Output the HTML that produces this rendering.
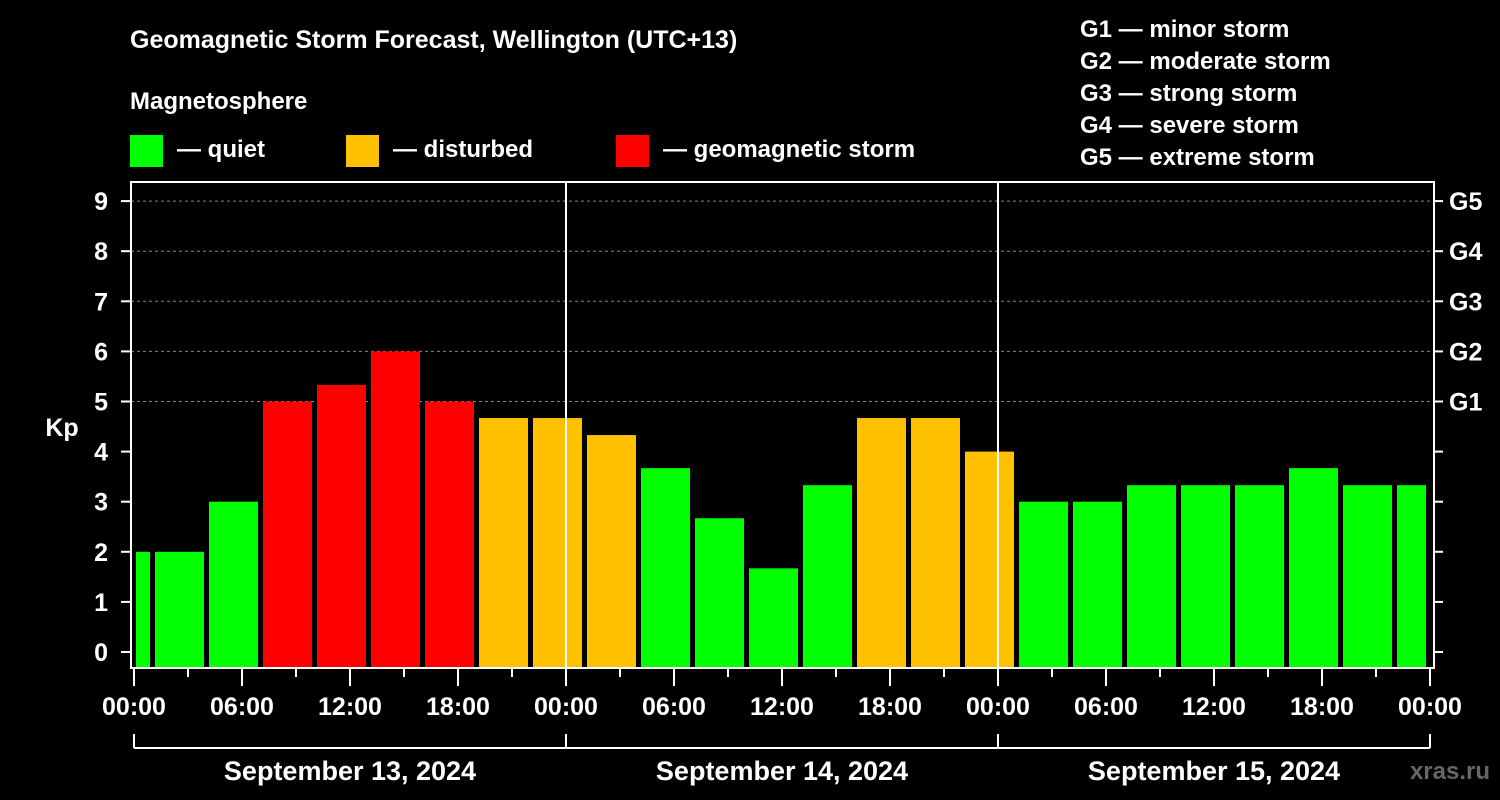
<!DOCTYPE html>
<html><head><meta charset="utf-8"><style>
html,body{margin:0;padding:0;background:#000;}
svg{display:block;font-family:"Liberation Sans",Arial,sans-serif;font-weight:bold;}
</style></head><body>
<svg id="chart" width="1500" height="800" viewBox="0 0 1500 800">
<rect width="1500" height="800" fill="#000"/>
<text x="130" y="48" fill="#fff" font-size="25">Geomagnetic Storm Forecast, Wellington (UTC+13)</text>
<text x="130" y="109" fill="#fff" font-size="24">Magnetosphere</text>
<g><rect x="130" y="135" width="33" height="32" fill="#00ff00"/><text x="177" y="157" fill="#fff" font-size="24">— quiet</text></g>
<g><rect x="346" y="135" width="33" height="32" fill="#ffc000"/><text x="393" y="157" fill="#fff" font-size="24">— disturbed</text></g>
<g><rect x="616" y="135" width="33" height="32" fill="#ff0000"/><text x="663" y="157" fill="#fff" font-size="24">— geomagnetic storm</text></g>
<g fill="#fff" font-size="24">
<text x="1080" y="37">G1 — minor storm</text>
<text x="1080" y="69">G2 — moderate storm</text>
<text x="1080" y="101">G3 — strong storm</text>
<text x="1080" y="133">G4 — severe storm</text>
<text x="1080" y="165">G5 — extreme storm</text>
</g>
<text x="62" y="436" fill="#fff" font-size="25" text-anchor="middle">Kp</text>
<text x="1490" y="779" fill="#666" font-size="24" text-anchor="end">xras.ru</text>
<g id="plot"></g>
</svg>
<script>
const kpValues=[2,2,3,5,5.33,6,5,4.67,4.67,4.33,3.67,2.67,1.67,3.33,4.67,4.67,4,3,3,3.33,3.33,3.33,3.67,3.33,3.33];
const binStartHours=[-2,1,4,7,10,13,16,19,22,25,28,31,34,37,40,43,46,49,52,55,58,61,64,67,70];
const yTicks=[0,1,2,3,4,5,6,7,8,9];
const gLabels=["G1","G2","G3","G4","G5"];
const xTickLabels=["00:00","06:00","12:00","18:00","00:00","06:00","12:00","18:00","00:00","06:00","12:00","18:00","00:00"];
const dayLabels=["September 13, 2024","September 14, 2024","September 15, 2024"];
const NS="http://www.w3.org/2000/svg";
const X0=134,PXH=18,TOTAL=72,PL=131,PR=1434,PT=182,PB=668;
const x=h=>X0+Math.max(0,Math.min(TOTAL,h))*PXH;
const y=v=>652-50.1*v;
const g=document.getElementById('plot');
function mk(t,a,p){const e=document.createElementNS(NS,t);for(const k in a)e.setAttribute(k,a[k]);(p||g).appendChild(e);return e;}
// grid
yTicks.forEach(v=>{if(v>=5){const l=mk('line',{x1:PL,x2:PR,y1:y(v),y2:y(v),stroke:'#888','stroke-dasharray':'3,3','stroke-width':1});

}});
// bars
kpValues.forEach((v,i)=>{const s=binStartHours[i],e=s+3;const x1=x(s)+(s<0?2:3),x2=x(e)-(e>TOTAL?4:2);
const c=v>=5?'#ff0000':(v>=4?'#ffc000':'#00ff00');
const r=mk('rect',{x:x1,y:y(v),width:x2-x1,height:PB-1-y(v),fill:c});

});
// day separators
[24,48].forEach(h=>{const l=mk('line',{x1:x(h),x2:x(h),y1:PT,y2:PB,stroke:'#fff','stroke-width':2});

});
// frame
const f=mk('rect',{x:PL,y:PT,width:PR-PL,height:PB-PT,fill:'none',stroke:'#fff','stroke-width':2});


// y ticks and labels
yTicks.forEach(v=>{mk('line',{x1:PL-10,x2:PL,y1:y(v),y2:y(v),stroke:'#fff','stroke-width':2});
mk('line',{x1:PR,x2:PR+9,y1:y(v),y2:y(v),stroke:'#fff','stroke-width':2});
const t=mk('text',{x:108,y:y(v)+9,fill:'#fff','font-size':25,'text-anchor':'end'});t.textContent=v;

});
gLabels.forEach((s,i)=>{const t=mk('text',{x:1449,y:y(5+i)+9,fill:'#fff','font-size':25});t.textContent=s;

});
// x ticks
for(let h=0;h<=TOTAL;h+=3){const major=h%6===0;mk('line',{x1:x(h),x2:x(h),y1:PB+1,y2:PB+(major?18:9),stroke:'#fff','stroke-width':2});}
xTickLabels.forEach((s,i)=>{const t=mk('text',{x:x(i*6),y:715,fill:'#fff','font-size':25,'text-anchor':'middle'});t.textContent=s;

});
// date bracket
mk('line',{x1:x(0),x2:x(TOTAL),y1:748,y2:748,stroke:'#fff','stroke-width':2});
[0,24,48,72].forEach(h=>mk('line',{x1:x(h),x2:x(h),y1:734,y2:748,stroke:'#fff','stroke-width':2}));
dayLabels.forEach((s,i)=>{const t=mk('text',{x:x(i*24+12),y:780,fill:'#fff','font-size':27,'text-anchor':'middle'});t.textContent=s;

});
</script>
</body></html>
